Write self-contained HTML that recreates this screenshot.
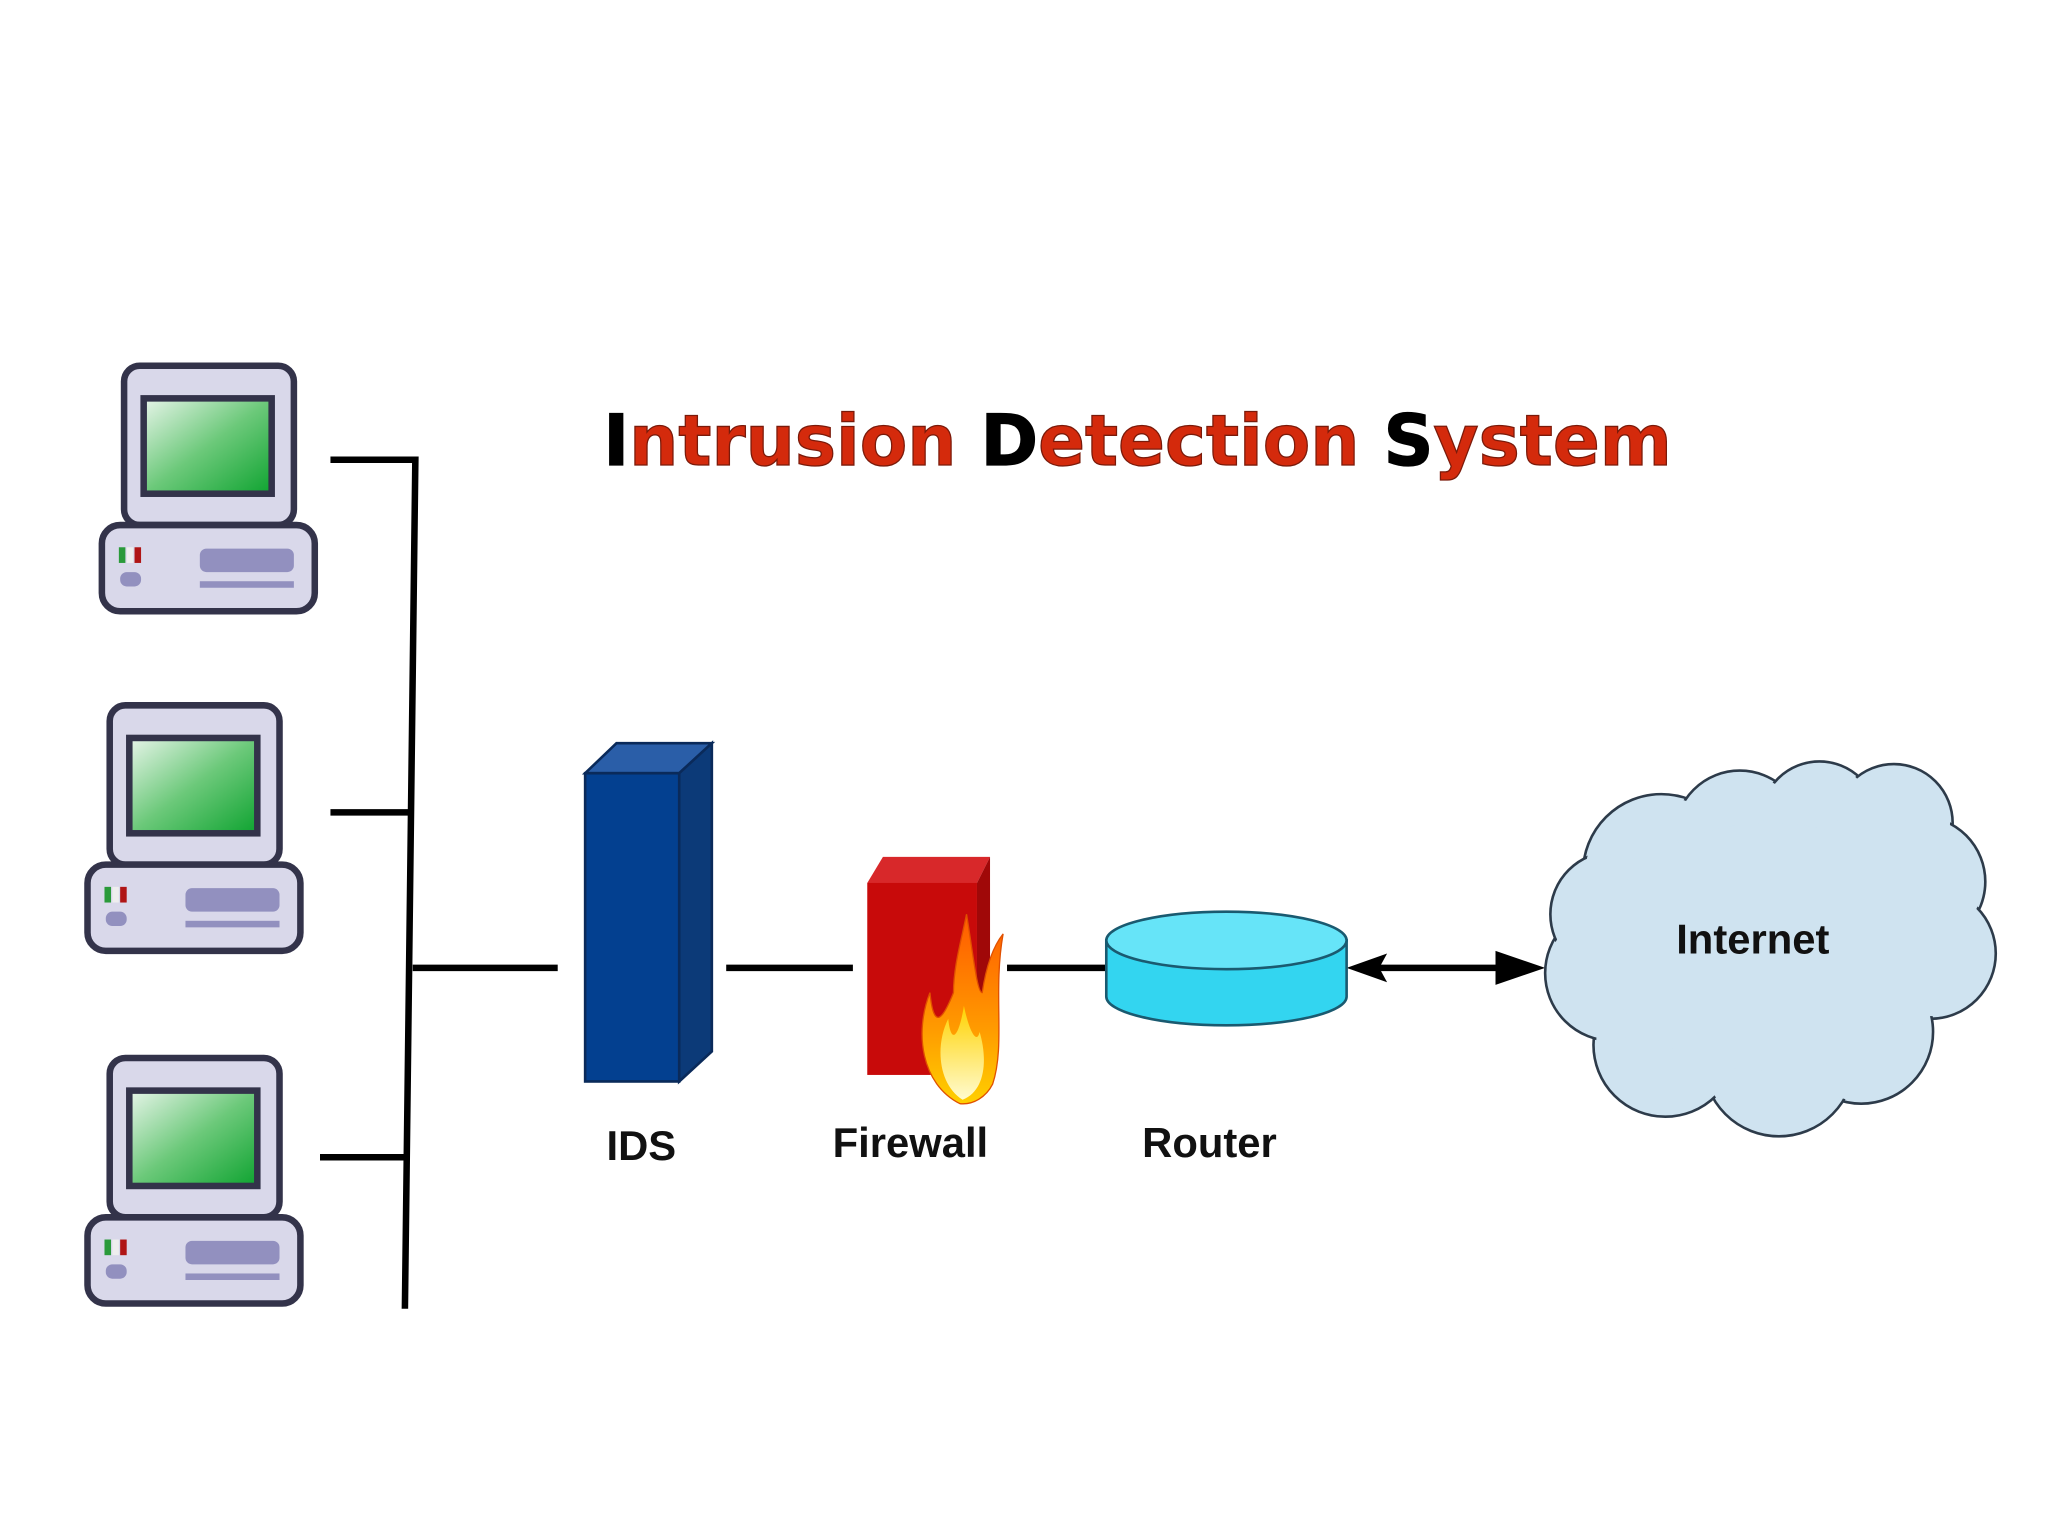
<!DOCTYPE html>
<html><head><meta charset="utf-8"><style>html,body{margin:0;padding:0;background:#fff}svg{display:block}</style></head>
<body>
<svg width="2048" height="1536" viewBox="0 0 1568 1176" xmlns="http://www.w3.org/2000/svg">
<defs>
<linearGradient id="scr" x1="0" y1="0" x2="1" y2="1"><stop offset="0" stop-color="#e8f5ea"/><stop offset="0.5" stop-color="#6cc97a"/><stop offset="1" stop-color="#0ea330"/></linearGradient>
<linearGradient id="fl" x1="0" y1="0" x2="0" y2="1"><stop offset="0" stop-color="#ff5a00"/><stop offset="0.6" stop-color="#ff9a00"/><stop offset="1" stop-color="#ffd000"/></linearGradient>
<linearGradient id="fl2" x1="0" y1="0" x2="0" y2="1"><stop offset="0" stop-color="#ffd200"/><stop offset="1" stop-color="#fffbd0"/></linearGradient>
<g id="pc">
<rect x="0" y="0" width="130" height="122" rx="12" fill="#d9d8ea" stroke="#33334a" stroke-width="5"/>
<rect x="15" y="25" width="98" height="73" fill="url(#scr)" stroke="#33334a" stroke-width="5"/>
<rect x="-17" y="122" width="163" height="66" rx="14" fill="#d9d8ea" stroke="#33334a" stroke-width="5"/>
<rect x="-4" y="139" width="5" height="12" fill="#2a9a3a"/><rect x="2" y="139" width="5" height="12" fill="#eee"/><rect x="8" y="139" width="5" height="12" fill="#b01515"/>
<rect x="-3" y="158" width="16" height="11" rx="5" fill="#9290bf"/>
<rect x="58" y="140" width="72" height="18" rx="5" fill="#9290bf"/>
<rect x="58" y="165" width="72" height="5" fill="#9290bf"/>
</g>
</defs>
<use href="#pc" x="95" y="280"/>
<use href="#pc" x="84" y="540"/>
<use href="#pc" x="84" y="810"/>
<g stroke="#000" stroke-width="5" fill="none">
<polyline points="253,352 318,352 310,1002"/>
<line x1="253" y1="622" x2="316" y2="622"/>
<line x1="245" y1="886" x2="311" y2="886"/>
<line x1="316" y1="741" x2="427" y2="741"/>
<line x1="556" y1="741" x2="653" y2="741"/>
<line x1="771" y1="741" x2="850" y2="741"/>
<line x1="1050" y1="741" x2="1160" y2="741"/>
</g>
<polygon points="1031,741 1062,730 1056,741 1062,752" fill="#000"/>
<polygon points="1183,741 1145,728 1145,754" fill="#000"/>
<g stroke="#0a2a5a" stroke-width="2">
<polygon points="448,592 472,569 545,569 520,592" fill="#2a5ea8"/>
<polygon points="520,592 545,569 545,805 520,828" fill="#0c3a78"/>
<rect x="448" y="592" width="72" height="236" fill="#034090"/>
</g>
<polygon points="664,676 676,656 758,656 748,676" fill="#d8282a"/>
<polygon points="748,676 758,656 758,815 748,823" fill="#a00808"/>
<rect x="664" y="676" width="84" height="147" fill="#c80a0a"/>
<path d="M735,845 C705,830 700,790 712,760 C715,790 722,780 730,760 C730,740 736,720 740,700 C745,730 748,760 752,760 C755,740 760,725 768,715 C760,760 770,800 760,830 C755,840 745,846 735,845Z" fill="url(#fl)" stroke="#e05000" stroke-width="1"/>
<path d="M737,842 C718,830 716,800 726,780 C728,800 734,795 738,770 C742,790 748,800 750,790 C756,810 755,835 737,842Z" fill="url(#fl2)"/>
<path d="M847,720 L847,763 A92,22 0 0 0 1031,763 L1031,720Z" fill="#33d5f0" stroke="#1a5a70" stroke-width="2"/>
<ellipse cx="939" cy="720" rx="92" ry="22" fill="#66e4f8" stroke="#1a5a70" stroke-width="2"/>
<g fill="#cfe3f0" stroke="#2d3b4a" stroke-width="2">
<circle cx="1272" cy="668" r="60"/><circle cx="1332" cy="640" r="50"/><circle cx="1393" cy="628" r="45"/><circle cx="1450" cy="630" r="45"/>
<circle cx="1470" cy="675" r="50"/><circle cx="1478" cy="730" r="50"/><circle cx="1425" cy="790" r="55"/><circle cx="1362" cy="812" r="58"/>
<circle cx="1275" cy="800" r="55"/><circle cx="1235" cy="745" r="52"/><circle cx="1235" cy="700" r="48"/>
</g>
<g fill="#cfe3f0">
<circle cx="1272" cy="668" r="58"/><circle cx="1332" cy="640" r="48"/><circle cx="1393" cy="628" r="43"/><circle cx="1450" cy="630" r="43"/>
<circle cx="1470" cy="675" r="48"/><circle cx="1478" cy="730" r="48"/><circle cx="1425" cy="790" r="53"/><circle cx="1362" cy="812" r="56"/>
<circle cx="1275" cy="800" r="53"/><circle cx="1235" cy="745" r="50"/><circle cx="1235" cy="700" r="46"/>
<ellipse cx="1355" cy="725" rx="130" ry="95"/>
</g>
<g font-family="Liberation Sans, sans-serif" font-weight="bold" font-size="32" fill="#111" text-anchor="middle">
<text x="1342" y="730">Internet</text>
<text x="491" y="888">IDS</text>
<text x="697" y="886">Firewall</text>
<text x="926" y="886">Router</text>
</g>
<g font-family="DejaVu Sans, sans-serif" font-weight="bold" font-size="54">
<text x="462" y="356" textLength="818" lengthAdjust="spacingAndGlyphs" fill="#d42a0c" stroke="#7a1a0a" stroke-width="1"><tspan fill="#000" stroke="#000">I</tspan>ntrusion <tspan fill="#000" stroke="#000">D</tspan>etection <tspan fill="#000" stroke="#000">S</tspan>ystem</text>
</g>
</svg>
</body></html>
